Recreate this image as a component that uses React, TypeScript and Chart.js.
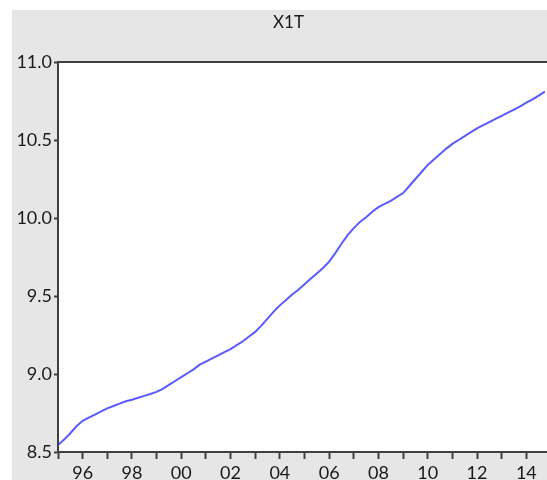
import React, { useEffect, useRef } from "react";
import { Chart, registerables } from "chart.js";

Chart.register(...registerables);

const TITLE = "X1T";
const START_YEAR = 1995;
const END_YEAR = 2015;
// quarterly observations 1995Q1 .. 2014Q4
const x1t = [
  8.545, 8.58, 8.62, 8.665,
  8.70, 8.72, 8.74, 8.76,
  8.78, 8.795, 8.81, 8.825,
  8.835, 8.848, 8.86, 8.872,
  8.885, 8.905, 8.93, 8.955,
  8.98, 9.005, 9.03, 9.06,
  9.08, 9.10, 9.12, 9.14,
  9.16, 9.185, 9.21, 9.24,
  9.27, 9.31, 9.355, 9.40,
  9.44, 9.475, 9.51, 9.54,
  9.575, 9.61, 9.645, 9.68,
  9.72, 9.775, 9.835, 9.89,
  9.935, 9.975, 10.005, 10.04,
  10.07, 10.09, 10.11, 10.135,
  10.16, 10.205, 10.25, 10.295,
  10.34, 10.375, 10.41, 10.445,
  10.475, 10.50, 10.525, 10.55,
  10.575, 10.595, 10.615, 10.635,
  10.655, 10.675, 10.695, 10.715,
  10.74, 10.76, 10.785, 10.81,
];
const yTicks = [8.5, 9.0, 9.5, 10.0, 10.5, 11.0];
const xLabelYears = [1996, 1998, 2000, 2002, 2004, 2006, 2008, 2010, 2012, 2014];

const FONT = "Lato, 'Open Sans', sans-serif";

export default function App() {
  const ref = useRef<HTMLCanvasElement>(null);
  useEffect(() => {
    if (!ref.current) return;
    const points = x1t.map((v, i) => ({ x: START_YEAR + i / 4, y: v }));
    const framePlugin = {
      id: "frame",
      beforeDraw(chart: any) {
        const { ctx, chartArea: a } = chart;
        ctx.save();
        ctx.fillStyle = "#ffffff";
        ctx.fillRect(a.left, a.top, a.right - a.left, a.bottom - a.top);
        ctx.restore();
      },
      afterDraw(chart: any) {
        const { ctx, chartArea: a } = chart;
        ctx.save();
        ctx.strokeStyle = "#404040";
        ctx.lineWidth = 2;
        ctx.strokeRect(a.left, a.top, a.right - a.left, a.bottom - a.top);
        ctx.fillStyle = "#1a1a1a";
        ctx.font = "17px " + FONT;
        ctx.textAlign = "center";
        ctx.textBaseline = "middle";
        ctx.fillText(TITLE, 276.5, 13);
        // x-axis labels placed through the x scale
        const xs = chart.scales.x;
        ctx.font = "18px " + FONT;
        ctx.textBaseline = "alphabetic";
        for (const yr of xLabelYears) {
          ctx.fillText(String(yr % 100).padStart(2, "0"), xs.getPixelForValue(yr), a.bottom + 27);
        }
        ctx.restore();
      },
    };
    const chart = new Chart(ref.current, {
      type: "line",
      data: {
        datasets: [
          {
            data: points,
            borderColor: "rgb(90,90,255)",
            borderWidth: 2,
            pointRadius: 0,
            tension: 0,
          },
        ],
      },
      options: {
        animation: false,
        responsive: true,
        maintainAspectRatio: false,
        layout: { padding: { top: 52, right: 9, left: 0, bottom: 0 } },
        plugins: { legend: { display: false }, tooltip: { enabled: false }, title: { display: false } },
        scales: {
          x: {
            type: "linear",
            min: START_YEAR,
            max: END_YEAR,
            afterFit: (s: any) => { s.height = 28; },
            afterBuildTicks: (s: any) => {
              const t = [];
              for (let y = START_YEAR; y <= END_YEAR; y++) t.push({ value: y });
              s.ticks = t;
            },
            ticks: {
              autoSkip: false,
              maxRotation: 0,
              padding: 0,
              color: "rgba(0,0,0,0)",
              font: { family: FONT, size: 18 },
              callback: () => "",
            },
            grid: { drawOnChartArea: false, drawTicks: true, tickLength: 7, tickColor: "#404040", tickWidth: 2 },
            border: { display: true, color: "#404040", width: 2 },
          },
          y: {
            min: 8.5,
            max: 11.0,
            afterFit: (s: any) => { s.width = 46; },
            afterBuildTicks: (s: any) => {
              s.ticks = yTicks.map((v) => ({ value: v }));
            },
            ticks: {
              padding: 2,
              color: "#1a1a1a",
              font: { family: FONT, size: 18 },
              callback: (v: any) => Number(v).toFixed(1),
            },
            grid: { drawOnChartArea: false, drawTicks: true, tickLength: 4, tickColor: "#404040", tickWidth: 2 },
            border: { display: true, color: "#404040", width: 2 },
          },
        },
      },
      plugins: [framePlugin],
    });
    return () => chart.destroy();
  }, []);
  return (
    <div style={{ position: "fixed", left: 0, top: 0, width: 547, height: 480, overflow: "hidden", background: "#ffffff" }}>
      <div style={{ position: "absolute", left: 12, top: 10, width: 548, height: 470, background: "#e6e6e6" }}>
        <canvas ref={ref} />
      </div>
    </div>
  );
}
